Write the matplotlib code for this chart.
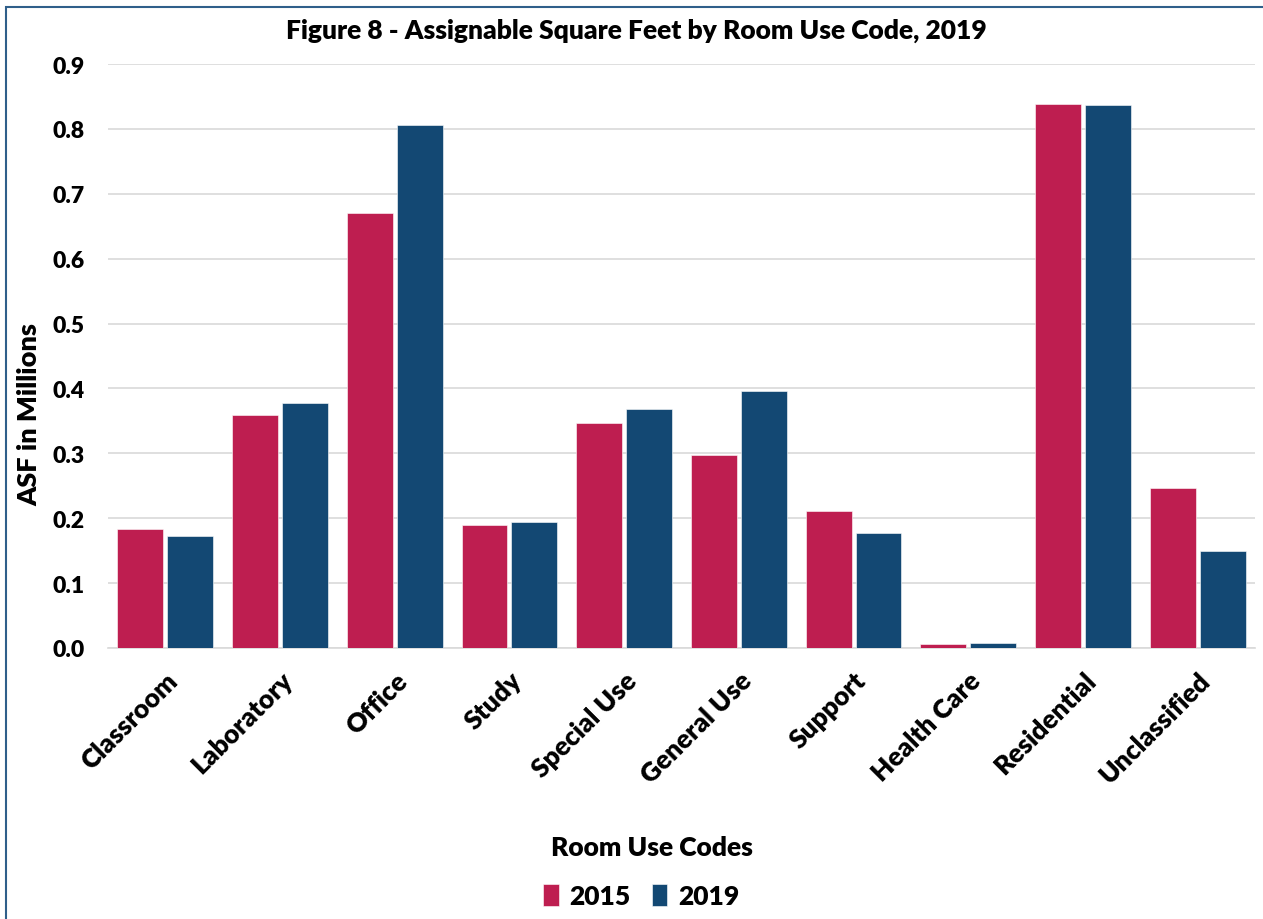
import matplotlib
matplotlib.use("Agg")
import matplotlib.pyplot as plt
import numpy as np
from matplotlib.patches import Rectangle

categories = ["Classroom", "Laboratory", "Office", "Study", "Special Use",
              "General Use", "Support", "Health Care", "Residential", "Unclassified"]
values_2015 = [0.183, 0.359, 0.670, 0.190, 0.347, 0.297, 0.211, 0.006, 0.838, 0.247]
values_2019 = [0.173, 0.377, 0.806, 0.194, 0.368, 0.396, 0.177, 0.008, 0.837, 0.149]
yticks = [0.0, 0.1, 0.2, 0.3, 0.4, 0.5, 0.6, 0.7, 0.8, 0.9]
ytick_labels = ["0.0", "0.1", "0.2", "0.3", "0.4", "0.5", "0.6", "0.7", "0.8", "0.9"]
series_labels = ["2015", "2019"]
colors = ["#BE1E50", "#134873"]

W = 'heavy'
plt.rcParams['font.family'] = ['Lato', 'DejaVu Sans']
plt.rcParams['font.weight'] = W

fig = plt.figure(figsize=(12.63, 9.2), dpi=100)
ax = fig.add_axes([108/1263, 1-649/920, (1255-108)/1263, (649-65)/920])

x = np.arange(len(categories))
w = 0.40
gap = 0.035
ax.bar(x - (w+gap)/2, values_2015, w, color=colors[0], edgecolor="white", linewidth=0.4, label=series_labels[0], zorder=3)
ax.bar(x + (w+gap)/2, values_2019, w, color=colors[1], edgecolor="white", linewidth=0.4, label=series_labels[1], zorder=3)

ax.set_xlim(-0.5, len(categories)-0.5)
ax.set_ylim(0, 0.9)
ax.set_yticks(yticks)
ax.set_yticklabels(ytick_labels, fontsize=16.5, fontweight=W)
ax.set_xticks(x)
ax.set_xticklabels(categories, rotation=45, ha='right', rotation_mode='anchor', fontsize=19, fontweight=W)
ax.tick_params(axis='x', length=0, pad=14)
ax.tick_params(axis='y', length=0, pad=17)
ax.yaxis.grid(True, color="#d9d9d9", linewidth=1.2, zorder=0)
for s in ['top', 'right', 'left']:
    ax.spines[s].set_visible(False)
ax.spines['bottom'].set_color("#d9d9d9")
ax.spines['bottom'].set_linewidth(1.2)

fig.text(636/1263, 1-31/920, "Figure 8 - Assignable Square Feet by Room Use Code, 2019",
         ha='center', va='center', fontsize=19, fontweight=W)
fig.text(29/1263, 1-415/920, "ASF in Millions", rotation=90, ha='center', va='center',
         fontsize=19.5, fontweight=W)
fig.text(652/1263, 1-848/920, "Room Use Codes", ha='center', va='center',
         fontsize=19, fontweight=W)

fig.legend(loc='center', bbox_to_anchor=(641/1263, 1-897/920), ncol=2, frameon=False,
           handlelength=0.6, handleheight=0.9, handletextpad=0.4, columnspacing=0.8,
           prop={'weight': W, 'size': 19})

border = Rectangle((6/1263, -0.1), 1.2, 1.1 - 8/920, transform=fig.transFigure,
                   fill=False, edgecolor="#2F5F8A", linewidth=1.5)
fig.patches.append(border)

fig.savefig("out.png", dpi=100)
